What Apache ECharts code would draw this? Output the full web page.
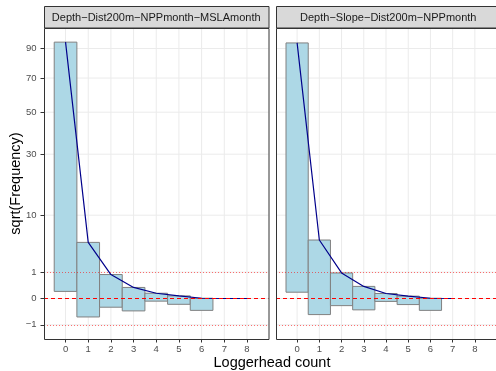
<!DOCTYPE html>
<html>
<head>
<meta charset="utf-8">
<script src="https://cdn.jsdelivr.net/npm/echarts@6/dist/echarts.min.js"></script>
<style>
  html, body { margin: 0; padding: 0; background: #fff; }
  #chart { width: 496px; height: 371px; }
</style>
</head>
<body>
<div id="chart"></div>
<script>
// Hanging rootogram of loggerhead counts for two candidate models.
// All values are on the square-root scale.
const counts = [0, 1, 2, 3, 4, 5, 6, 7, 8];
const observedCounts = [0, 1, 2, 3, 4, 5, 6];

// sqrt of observed frequency (bar lengths)
const rootObserved = [9.46, 2.83, 1.24, 0.89, 0.30, 0.32, 0.46];

// sqrt of expected frequency (curve) for each model
const rootExpectedA = [9.73, 2.13, 0.91, 0.42, 0.20, 0.10, 0.01, 0.00, 0.00];
const rootExpectedB = [9.70, 2.22, 0.97, 0.46, 0.19, 0.09, 0.01, 0.00];

const panelTitles = ['Depth\u2212Dist200m\u2212NPPmonth\u2212MSLAmonth', 'Depth\u2212Slope\u2212Dist200m\u2212NPPmonth'];

// y tick labels are frequencies placed at their square roots
const yTickFreq = [-1, 0, 1, 10, 30, 50, 70, 90];
const xTicks = [0, 1, 2, 3, 4, 5, 6, 7, 8];

const yTickPos = yTickFreq.map(v => Math.sign(v) * Math.sqrt(Math.abs(v)));
const FONT = '"Liberation Sans", Arial, sans-serif';

const grids = [
  { left: 44, top: 28, width: 224.5, height: 311 },
  { left: 276, top: 28, width: 224.5, height: 311 }
];

function xAxisFor(i) {
  return {
    type: 'value', gridIndex: i, min: -0.95, max: 8.95, position: 'bottom',
    axisLine: { show: false, onZero: false },
    axisTick: { show: true, length: 3.5, lineStyle: { color: '#333333', width: 1 }, customValues: xTicks },
    axisLabel: { show: true, customValues: xTicks, color: '#4D4D4D', fontSize: 9.5, fontFamily: FONT, margin: 5.5 },
    splitLine: { show: false }
  };
}
function yAxisFor(i) {
  return {
    type: 'value', gridIndex: i, min: -1.5365, max: 10.2665, position: 'left',
    axisLine: { show: false, onZero: false },
    axisTick: { show: i === 0, length: 3.5, lineStyle: { color: '#333333', width: 1 }, customValues: yTickPos },
    axisLabel: {
      show: i === 0, customValues: yTickPos, color: '#4D4D4D', fontSize: 9.5, fontFamily: FONT, margin: 7.5,
      formatter: v => {
        const f = Math.round(Math.sign(v) * v * v);
        return f < 0 ? '\u2212' + Math.abs(f) : String(f);
      }
    },
    splitLine: { show: false }
  };
}

// background grid lines drawn as a custom series
function gridSeries(i) {
  return {
    type: 'custom', xAxisIndex: i, yAxisIndex: i, z: 0, silent: true,
    data: [0],
    renderItem: function (params, api) {
      const cs = params.coordSys;
      const children = [];
      xTicks.forEach(v => {
        const p = api.coord([v, 0]);
        children.push({ type: 'line', shape: { x1: p[0], y1: cs.y, x2: p[0], y2: cs.y + cs.height },
          style: { stroke: '#EBEBEB', lineWidth: 1 } });
      });
      yTickPos.forEach(v => {
        const p = api.coord([0, v]);
        children.push({ type: 'line', shape: { x1: cs.x, y1: p[1], x2: cs.x + cs.width, y2: p[1] },
          style: { stroke: '#EBEBEB', lineWidth: 1 } });
      });
      return { type: 'group', children: children };
    }
  };
}

function barSeries(i, rootExpected) {
  const data = observedCounts.map((c, k) => [c, rootExpected[k], rootExpected[k] - rootObserved[k]]);
  return {
    type: 'custom', xAxisIndex: i, yAxisIndex: i, z: 2, silent: true,
    data: data,
    renderItem: function (params, api) {
      const x = api.value(0), top = api.value(1), bottom = api.value(2);
      const p1 = api.coord([x - 0.5, top]);
      const p2 = api.coord([x + 0.5, bottom]);
      return {
        type: 'rect',
        shape: { x: p1[0], y: p1[1], width: p2[0] - p1[0], height: p2[1] - p1[1] },
        style: { fill: '#ADD8E6', stroke: '#808080', lineWidth: 1 }
      };
    }
  };
}

function refLineSeries(i) {
  return {
    type: 'line', xAxisIndex: i, yAxisIndex: i, z: 3, data: [], silent: true,
    markLine: {
      symbol: 'none', silent: true, label: { show: false },
      data: [
        { yAxis: 0, lineStyle: { color: '#FF0000', type: [4, 3], width: 1 } },
        { yAxis: 1, lineStyle: { color: 'rgba(255,0,0,0.55)', type: [1, 2], width: 1 } },
        { yAxis: -1, lineStyle: { color: 'rgba(255,0,0,0.55)', type: [1, 2], width: 1 } }
      ]
    }
  };
}

function curveSeries(i, rootExpected) {
  return {
    type: 'line', xAxisIndex: i, yAxisIndex: i, z: 4, silent: true,
    data: rootExpected.map((v, k) => [counts[k], v]),
    showSymbol: false, symbol: 'none',
    lineStyle: { color: '#00008B', width: 1.2 }
  };
}

const graphics = [];
grids.forEach((g, i) => {
  graphics.push({
    type: 'rect', shape: { x: g.left + 0.5, y: 6.5, width: g.width, height: 21.5 },
    style: { fill: '#D9D9D9', stroke: '#333333', lineWidth: 1 }, z: 10
  });
  graphics.push({
    type: 'text', x: g.left + g.width / 2, y: 17.5,
    style: { text: panelTitles[i], font: '11px ' + FONT, fill: '#1A1A1A', textAlign: 'center', textVerticalAlign: 'middle' }, z: 11
  });
  graphics.push({
    type: 'rect', shape: { x: g.left + 0.5, y: g.top + 0.5, width: g.width, height: g.height },
    style: { fill: 'none', stroke: '#333333', lineWidth: 1 }, z: 10
  });
});
graphics.push({
  type: 'text', x: 272, y: 363,
  style: { text: 'Loggerhead count', font: '14.5px ' + FONT, fill: '#000000', textAlign: 'center', textVerticalAlign: 'middle' }
});
graphics.push({
  type: 'text', x: 16, y: 183.5, rotation: Math.PI / 2,
  style: { text: 'sqrt(Frequency)', font: '14.5px ' + FONT, fill: '#000000', textAlign: 'center', textVerticalAlign: 'middle' }
});

const chart = echarts.init(document.getElementById('chart'), null, { renderer: 'canvas' });
chart.setOption({
  animation: false,
  backgroundColor: '#FFFFFF',
  grid: grids.map(g => Object.assign({ show: false }, g)),
  xAxis: [xAxisFor(0), xAxisFor(1)],
  yAxis: [yAxisFor(0), yAxisFor(1)],
  series: [
    gridSeries(0), gridSeries(1),
    barSeries(0, rootExpectedA), barSeries(1, rootExpectedB),
    refLineSeries(0), refLineSeries(1),
    curveSeries(0, rootExpectedA), curveSeries(1, rootExpectedB)
  ],
  graphic: graphics
});
</script>
</body>
</html>
